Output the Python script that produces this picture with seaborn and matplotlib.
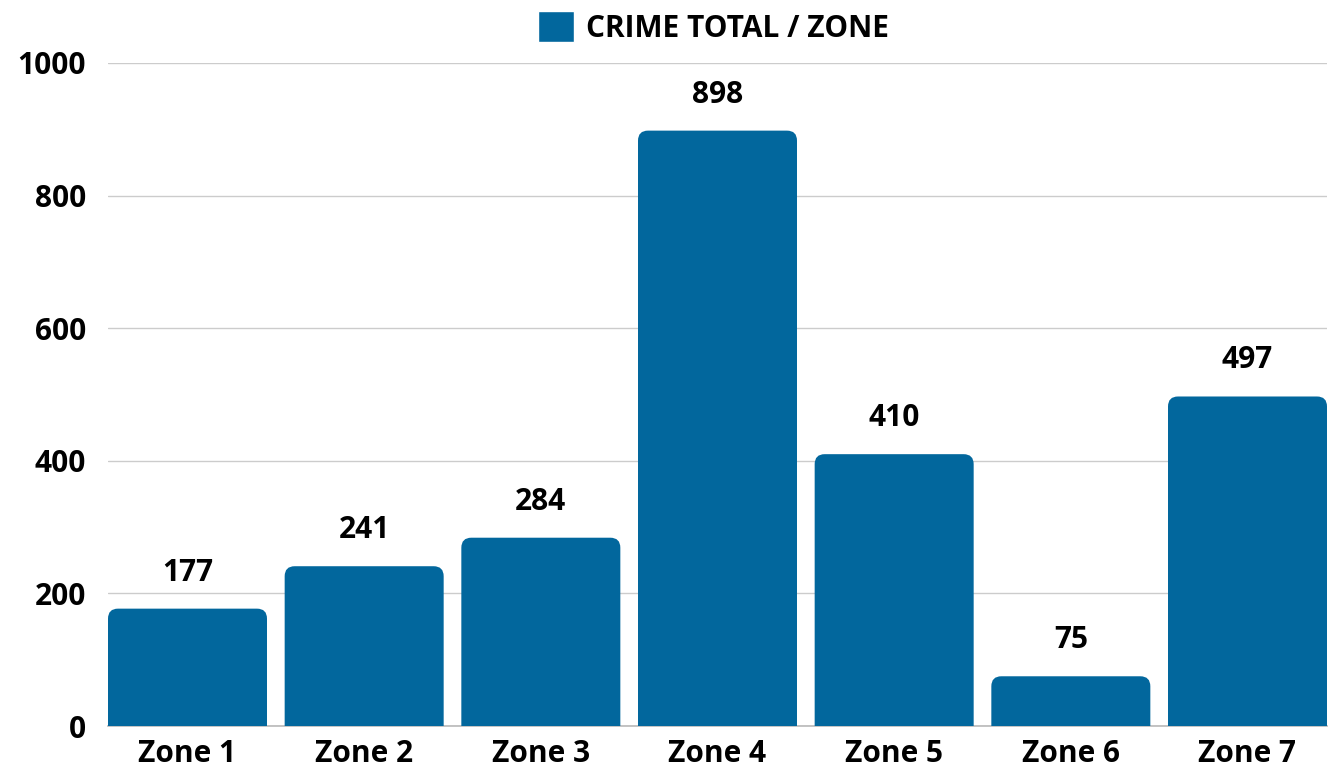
import matplotlib
matplotlib.use("Agg")
import matplotlib.pyplot as plt
import seaborn as sns
import pandas as pd
from matplotlib.patches import FancyBboxPatch, Patch

zones = ["Zone 1", "Zone 2", "Zone 3", "Zone 4", "Zone 5", "Zone 6", "Zone 7"]
crime_totals = [177, 241, 284, 898, 410, 75, 497]
series_name = "CRIME TOTAL / ZONE"
y_ticks = [0, 200, 400, 600, 800, 1000]

color = "#02679D"

sns.set_theme(style="white")
plt.rcParams["font.family"] = ["Open Sans", "DejaVu Sans"]

W, H, DPI = 13.32, 7.69, 100
fig = plt.figure(figsize=(W, H), dpi=DPI)
left, right, bottom, top = 108, 1327, 726, 63
ax = fig.add_axes([left / 1332, (769 - bottom) / 769, (right - left) / 1332, (bottom - top) / 769])

df = pd.DataFrame({"zone": zones, "total": crime_totals})
sns.barplot(data=df, x="zone", y="total", color=color, width=0.9, ax=ax, saturation=1)

ax.set_xlim(-0.45, len(zones) - 0.55)
ax.set_ylim(0, 1000)

px_per_x = (right - left) / (len(zones) - 0.1)
px_per_y = (bottom - top) / 1000
r_px = 10
r_x = r_px / px_per_x
aspect = px_per_x / px_per_y

FS = 21.5
patches = list(ax.patches)
for p in patches:
    x0, w, h = p.get_x(), p.get_width(), p.get_height()
    p.remove()
    ext = r_px / px_per_y
    fb = FancyBboxPatch((x0, -ext), w, h + ext,
                        boxstyle=f"round,pad=0,rounding_size={r_x}",
                        mutation_aspect=aspect, facecolor=color, edgecolor="none",
                        zorder=3, clip_on=True)
    ax.add_patch(fb)
    ax.annotate(f"{int(h)}", (x0 + w / 2, h), xytext=(0, 36), textcoords="offset pixels",
                ha="center", va="center", fontsize=FS, fontweight="bold", color="black",
                annotation_clip=False)

ax.set_yticks(y_ticks)
ax.set_yticklabels([str(v) for v in y_ticks], fontsize=FS, fontweight="bold")
ax.set_xticks(range(len(zones)))
ax.set_xticklabels(zones, fontsize=FS, fontweight="bold")
ax.tick_params(axis="both", length=0, colors="black")
ax.tick_params(axis="y", pad=16)
ax.tick_params(axis="x", pad=9)
ax.set_xlabel("")
ax.set_ylabel("")
ax.grid(axis="y", color="#cccccc", linewidth=1, zorder=0)
ax.set_axisbelow(True)
for s in ["top", "right", "left"]:
    ax.spines[s].set_visible(False)
ax.spines["bottom"].set_color("#bbbbbb")

leg = ax.legend(handles=[Patch(facecolor=color, label=series_name)], loc="lower center",
                bbox_to_anchor=(0.5 - 4 / 1219, 1.0), frameon=False, handlelength=1.2,
                handleheight=1.2, handletextpad=0.4, prop={"size": FS, "weight": "bold"},
                borderaxespad=0.25)
for t in leg.get_texts():
    t.set_color("black")

fig.savefig("out.png", dpi=DPI)
